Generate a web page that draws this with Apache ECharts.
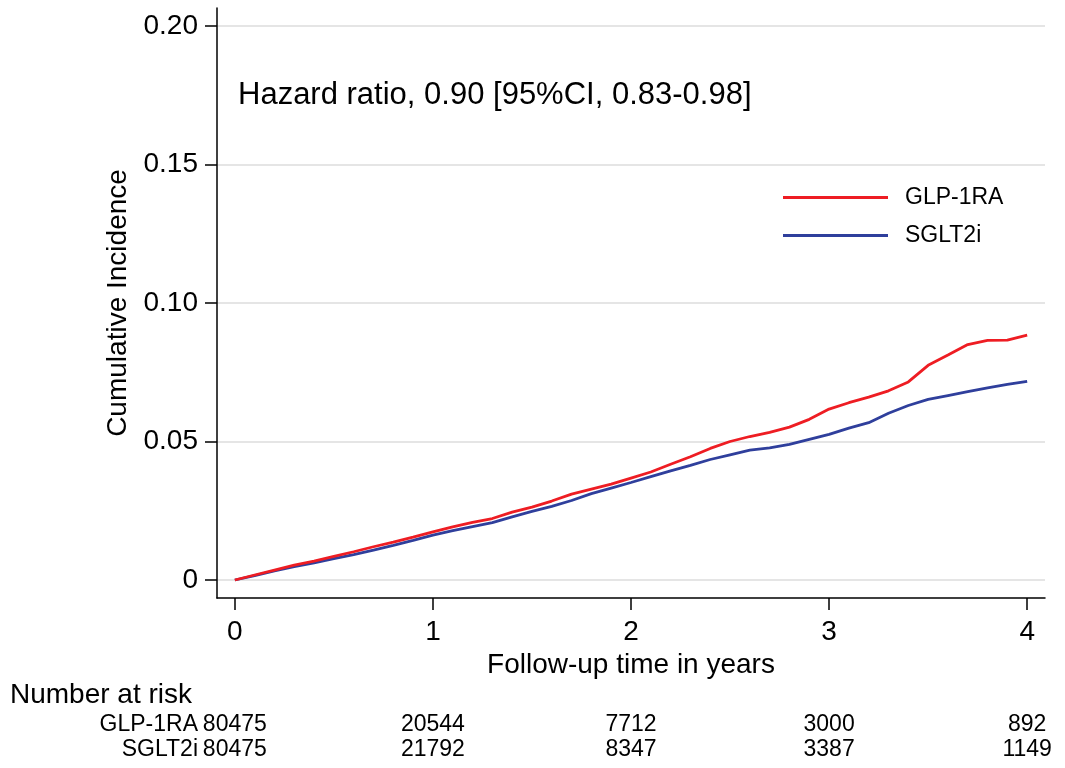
<!DOCTYPE html>
<html>
<head>
<meta charset="utf-8">
<script src="https://cdn.jsdelivr.net/npm/echarts@6/dist/echarts.min.js"></script>
<style>
html,body{margin:0;padding:0;background:#fff;}
#chart{width:1065px;height:768px;}
</style>
</head>
<body>
<div id="chart"></div>
<script>
// Follow-up time (years)
const times = [0,0.1,0.2,0.3,0.4,0.5,0.6,0.7,0.8,0.9,1.0,1.1,1.2,1.3,1.4,1.5,1.6,1.7,1.8,1.9,2.0,
  2.1,2.2,2.3,2.4,2.5,2.6,2.7,2.8,2.9,3.0,3.1,3.2,3.3,3.4,3.5,3.6,3.7,3.8,3.9,4.0];
// Cumulative incidence, GLP-1RA
const glpValues = [0,0.0018,0.0036,0.0054,0.0068,0.0085,0.0102,0.0120,0.0137,0.0155,0.0174,
  0.0192,0.0208,0.0222,0.0245,0.0263,0.0285,0.0310,0.0328,0.0346,0.0368,
  0.0390,0.0418,0.0445,0.0475,0.0500,0.0518,0.0533,0.0552,0.0580,0.0617,
  0.0640,0.0660,0.0683,0.0715,0.0775,0.0812,0.0850,0.0865,0.0866,0.0884];
// Cumulative incidence, SGLT2i
const sgltValues = [0,0.0016,0.0033,0.0048,0.0062,0.0077,0.0092,0.0108,0.0125,0.0143,0.0162,
  0.0178,0.0193,0.0207,0.0228,0.0248,0.0266,0.0287,0.0312,0.0332,0.0352,
  0.0373,0.0394,0.0414,0.0435,0.0452,0.0469,0.0477,0.0490,0.0508,0.0526,
  0.0548,0.0568,0.0602,0.0630,0.0652,0.0666,0.0680,0.0694,0.0706,0.0717];
// Axis ticks
const xTicks = [0,1,2,3,4];
const yTicks = [0,0.05,0.10,0.15,0.20];
// Number at risk
const riskGroups = ['GLP-1RA','SGLT2i'];
const riskTimes = [0,1,2,3,4];
const riskGLP = [80475,20544,7712,3000,892];
const riskSGLT = [80475,21792,8347,3387,1149];
const hazardText = 'Hazard ratio, 0.90 [95%CI, 0.83-0.98]';

const RED = '#ee1d23';
const BLUE = '#2f3f9c';
const FONT = 'Liberation Sans, Arial, sans-serif';

const chart = echarts.init(document.getElementById('chart'), null, {renderer:'canvas'});

function pairs(xs, ys){ return xs.map((x,i)=>[x, ys[i]]); }

const riskLabel = {show:true, position:'inside', fontSize:23, color:'#000', fontFamily:FONT,
  textBorderWidth:0, textBorderColor:'transparent', textShadowBlur:0, opacity:1};

const option = {
  animation:false,
  backgroundColor:'#fff',
  textStyle:{fontFamily:FONT, color:'#000'},
  grid:[
    {left:217, right:20, top:8, bottom:170, containLabel:false},
    {left:217, right:20, top:711.5, height:51, containLabel:false}
  ],
  xAxis:[
    {
      type:'value', gridIndex:0, min:-0.09, max:4.09,
      name:'Follow-up time in years', nameLocation:'middle', nameGap:47,
      nameTextStyle:{fontSize:28, color:'#000', fontFamily:FONT},
      axisLine:{show:true, onZero:false, lineStyle:{color:'#000', width:1.5}},
      axisTick:{show:true, customValues:xTicks, length:12, lineStyle:{color:'#000', width:1.5}},
      axisLabel:{show:true, customValues:xTicks, margin:20, fontSize:28, color:'#000', fontFamily:FONT},
      splitLine:{show:false}
    },
    {
      type:'value', gridIndex:1, min:-0.09, max:4.09, show:false
    }
  ],
  yAxis:[
    {
      type:'value', gridIndex:0, min:-0.0065, max:0.2065,
      name:'Cumulative Incidence', nameLocation:'middle', nameGap:84, nameRotate:90,
      nameTextStyle:{fontSize:28, color:'#000', fontFamily:FONT},
      axisLine:{show:true, onZero:false, lineStyle:{color:'#000', width:1.5}},
      axisTick:{show:true, customValues:yTicks, length:12, lineStyle:{color:'#000', width:1.5}},
      axisLabel:{show:true, customValues:yTicks, margin:19, fontSize:28, color:'#000', fontFamily:FONT,
        formatter:function(v){ return v===0 ? '0' : v.toFixed(2); }},
      splitLine:{show:true, lineStyle:{color:'#dcdcdc', width:1.5}}
    },
    {
      type:'category', gridIndex:1, data:riskGroups, inverse:true,
      axisLine:{show:false}, axisTick:{show:false}, splitLine:{show:false},
      axisLabel:{show:true, interval:0, hideOverlap:false, margin:19, fontSize:23, color:'#000', fontFamily:FONT}
    }
  ],
  legend:{
    orient:'vertical', left:783, top:186, itemGap:15, padding:0,
    itemWidth:105, itemHeight:3, icon:'rect',
    data:['GLP-1RA','SGLT2i'],
    textStyle:{fontSize:23, color:'#000', fontFamily:FONT, padding:[0,0,0,12]}
  },
  graphic:[
    {type:'text', left:238, top:80, style:{text:hazardText, font:'31px ' + FONT, fill:'#000'}},
    {type:'text', left:10, top:681, style:{text:'Number at risk', font:'28px ' + FONT, fill:'#000'}}
  ],
  series:[
    {
      name:'GLP-1RA', type:'line', xAxisIndex:0, yAxisIndex:0,
      data:pairs(times, glpValues), showSymbol:false, symbol:'none',
      lineStyle:{color:RED, width:2.8}, itemStyle:{color:RED}, z:3
    },
    {
      name:'SGLT2i', type:'line', xAxisIndex:0, yAxisIndex:0,
      data:pairs(times, sgltValues), showSymbol:false, symbol:'none',
      lineStyle:{color:BLUE, width:2.8}, itemStyle:{color:BLUE}, z:2
    },
    {
      name:'riskGLP', type:'scatter', xAxisIndex:1, yAxisIndex:1,
      data:riskTimes.map((t,i)=>({value:[t, riskGroups[0]], label:{formatter:String(riskGLP[i])}})),
      symbolSize:0, itemStyle:{color:'#000', opacity:1},
      label:riskLabel, silent:true
    },
    {
      name:'riskSGLT', type:'scatter', xAxisIndex:1, yAxisIndex:1,
      data:riskTimes.map((t,i)=>({value:[t, riskGroups[1]], label:{formatter:String(riskSGLT[i])}})),
      symbolSize:0, itemStyle:{color:'#000', opacity:1},
      label:riskLabel, silent:true
    }
  ]
};
chart.setOption(option);
</script>
</body>
</html>
